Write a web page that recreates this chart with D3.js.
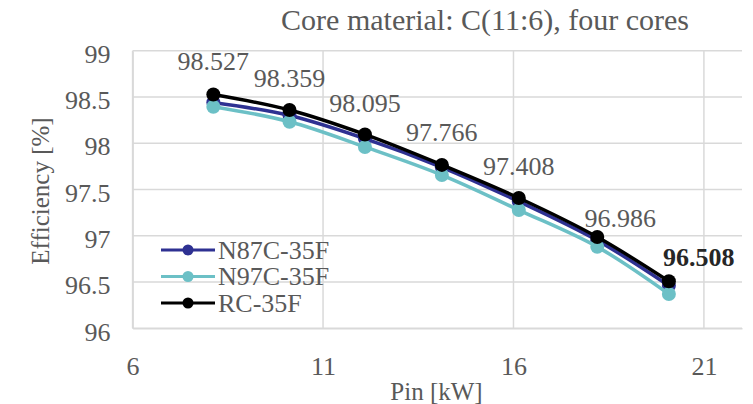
<!DOCTYPE html>
<html>
<head>
<meta charset="utf-8">
<script src="https://cdn.jsdelivr.net/npm/d3@7"></script>
<style>
  body { margin: 0; background: #fff; }
  svg text { font-family: "Liberation Serif", "Times New Roman", serif; }
</style>
</head>
<body>
<svg width="753" height="404"></svg>
<script>
const svg = d3.select("svg");

// data
const pin = [8.12, 10.12, 12.1, 14.12, 16.14, 18.2, 20.08];
const n87 = [98.44, 98.30, 98.05, 97.74, 97.37, 96.95, 96.46];
const n97 = [98.395, 98.232, 97.96, 97.656, 97.278, 96.88, 96.37];
const rc = [98.527, 98.359, 98.095, 97.766, 97.408, 96.986, 96.508];
const seriesNames = ["N87C-35F", "N97C-35F", "RC-35F"];
const seriesColors = ["#2e3192", "#6cc0c6", "#000000"];
const xTicks = [6, 11, 16, 21];
const yTicks = [96, 96.5, 97, 97.5, 98, 98.5, 99];

const series = [n87, n97, rc];

const x = d3.scaleLinear().domain([6, 22]).range([132.6, 742]);
const y = d3.scaleLinear().domain([96, 99]).range([328.3, 50.7]);

// gridlines
svg.append("g").selectAll("line").data(yTicks).enter().append("line")
    .attr("x1", x(6)).attr("x2", x(22))
    .attr("y1", d => y(d)).attr("y2", d => y(d))
    .attr("stroke", "#d9d9d9").attr("stroke-width", 1.5);
svg.append("g").selectAll("line").data(xTicks).enter().append("line")
    .attr("x1", d => x(d)).attr("x2", d => x(d))
    .attr("y1", y(96)).attr("y2", y(99))
    .attr("stroke", "#d9d9d9").attr("stroke-width", 1.5);

// axes
const yAxis = svg.append("g").attr("transform", `translate(${x(6)},0)`)
    .call(d3.axisLeft(y).tickValues(yTicks).tickSize(0).tickPadding(22).tickFormat(d3.format("")));
yAxis.selectAll("text").attr("dy", "0.45em");
const xAxis = svg.append("g").attr("transform", `translate(0,${y(96)})`)
    .call(d3.axisBottom(x).tickValues(xTicks).tickSize(0).tickPadding(28));
[xAxis, yAxis].forEach(a => {
    a.select(".domain").attr("stroke", "#d9d9d9").attr("stroke-width", 1.5);
    a.selectAll("text").attr("fill", "#595959").style("font-size", "26px");
});

// axis titles
svg.append("text").attr("x", 436.5).attr("y", 400).attr("text-anchor", "middle")
    .attr("fill", "#595959").style("font-size", "25px").text("Pin [kW]");
svg.append("text").attr("transform", "translate(49,191) rotate(-90)")
    .attr("text-anchor", "middle").attr("fill", "#595959")
    .style("font-size", "25px").text("Efficiency [%]");

// title
svg.append("text").attr("x", 689).attr("y", 30).attr("text-anchor", "end")
    .attr("fill", "#595959").style("font-size", "30px")
    .text("Core material: C(11:6), four cores");

// series
const line = d3.line().x((d, i) => x(pin[i])).y(d => y(d)).curve(d3.curveCatmullRom);
series.forEach((s, k) => {
    const g = svg.append("g");
    g.append("path").datum(s).attr("d", line).attr("fill", "none")
        .attr("stroke", seriesColors[k]).attr("stroke-width", 3.5);
    g.selectAll("circle").data(s).enter().append("circle")
        .attr("cx", (d, i) => x(pin[i])).attr("cy", d => y(d)).attr("r", 7)
        .attr("fill", seriesColors[k]);
});

// data labels for RC (last two were nudged in the original)
const labelDx = [0, 0, 0, 0, 0, 23, 30];
const labelDy = [-24, -23, -22, -24, -23, -10, -15];
svg.append("g").selectAll("text").data(rc).enter().append("text")
    .attr("x", (d, i) => x(pin[i]) + labelDx[i])
    .attr("y", (d, i) => y(d) + labelDy[i])
    .attr("text-anchor", "middle")
    .attr("fill", (d, i) => i === rc.length - 1 ? "#262626" : "#595959")
    .style("font-weight", (d, i) => i === rc.length - 1 ? "bold" : "normal")
    .style("font-size", "26px")
    .text(d => d3.format(".3f")(d));

// legend
const legend = svg.append("g");
seriesNames.forEach((name, k) => {
    const ly = 250 + k * 26.5;
    legend.append("line").attr("x1", 161).attr("x2", 215).attr("y1", ly).attr("y2", ly)
        .attr("stroke", seriesColors[k]).attr("stroke-width", 3);
    legend.append("circle").attr("cx", 188).attr("cy", ly).attr("r", 5.5).attr("fill", seriesColors[k]);
    legend.append("text").attr("x", 218).attr("y", ly + 8.5).attr("fill", "#595959")
        .style("font-size", "26px").text(name);
});
</script>
</body>
</html>
